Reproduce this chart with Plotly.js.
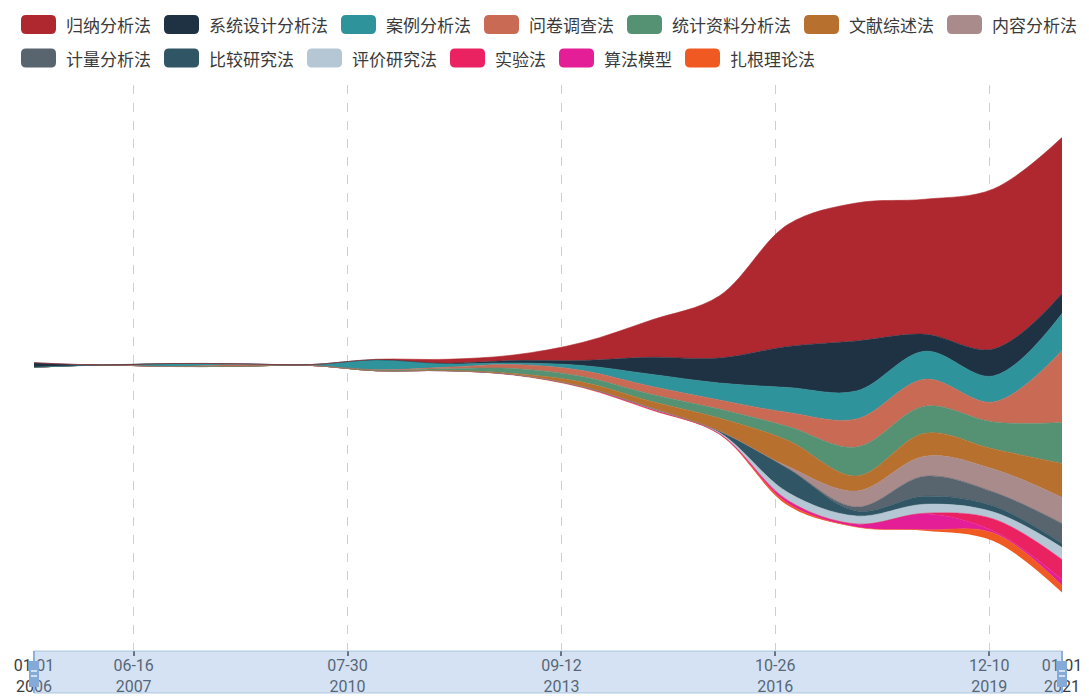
<!DOCTYPE html>
<html>
<head>
<meta charset="utf-8">
<script src="https://cdn.plot.ly/plotly-3.0.1.min.js"></script>
<style>
  html, body { margin: 0; padding: 0; background: #ffffff; }
  #chart { width: 1089px; height: 697px; }
</style>
</head>
<body>
<div id="chart"></div>
<script>
// ---------- data ----------
const years = ['2006','2007','2008','2009','2010','2011','2012','2013','2014','2015','2016','2017','2018','2019','2020','2021'];

const seriesNames = ['归纳分析法','系统设计分析法','案例分析法','问卷调查法','统计资料分析法','文献综述法','内容分析法',
                     '计量分析法','比较研究法','评价研究法','实验法','算法模型','扎根理论法'];
const seriesColors = ['#b0282f','#1f3244','#2e939b','#c96a55','#559274','#b8702f','#a88b8a',
                      '#58646e','#305565','#b5c7d4','#ea2262','#e41e96','#f05a22'];

const guina      = [0,   0, 0,   0,   0,   0.5, 4,   5.5, 18,  37,  62,  122, 138, 135, 160, 156];
const xitong     = [4.5, 0, 0,   0,   0,   0,   0.5, 2.5, 5,   17,  25,  41,  50,  17,  27,  20];
const anli       = [0,   0, 3,   1,   0.5, 10,  3.5, 1.5, 5,   12,  17,  25,  28,  28,  26,  37];
const wenjuan    = [0,   0, 0,   1.5, 0,   0.5, 1.5, 4,   6,   8,   9,   14,  28,  27,  20,  72];
const tongji     = [0,   0, 0,   0,   0,   0.5, 1.5, 5,   5.5, 7,   9,   14,  29,  27,  27,  41];
const wenxian    = [0,   0, 0,   0,   0,   0,   0.3, 1,   4.5, 6.5, 13,  26,  15,  23,  20,  34];
const neirong    = [0,   0, 0,   0,   0,   0,   0,   0,   0,   0,   0,   2,   16,  20,  23,  26];
const jiliang    = [0,   0, 0,   0,   0,   0,   0,   0,   0,   0,   0,   0,   4,   20,  14,  20];
const bijiao     = [0,   0, 0,   0,   0,   0,   0,   0,   0,   0.5, 1.5, 24,  5,   8,   6,   4];
const pingjia    = [0,   0, 0,   0,   0,   0,   0,   0,   0,   0.5, 1,   8,   8,   9,   7,   12];
const shiyan     = [0,   0, 0,   0,   0,   0,   0,   0,   0,   0,   0,   0,   0,   0.5, 12,  20];
const suanfa     = [0,   0, 0,   0,   0,   0,   0,   0.5, 1,   1,   0.5, 3,   3,   16,  2,   6];
const zhagen     = [0,   0, 0,   0,   0,   0,   0,   0,   0,   0,   0,   2,   0,   1,   8,   7];

const seriesValues = [guina, xitong, anli, wenjuan, tongji, wenxian, neirong, jiliang, bijiao, pingjia, shiyan, suanfa, zhagen];

const tickDates = ['2006-01-01','2007-06-16','2010-07-30','2013-09-12','2016-10-26','2019-12-10','2021-01-01'];
const tickLabels = ['01-01<br>2006','06-16<br>2007','07-30<br>2010','09-12<br>2013','10-26<br>2016','12-10<br>2019','01-01<br>2021'];

// ---------- layout geometry ----------
const W = 1089, H = 697;
const M = {l: 34, r: 27, t: 85, b: 47};
const PW = W - M.l - M.r, PH = H - M.t - M.b;
const px2x = px => (px - M.l) / PW;
const px2y = py => (H - M.b - py) / PH;

// ---------- theme river stacking (centered baseline) ----------
const dates = years.map(y => y + '-01-01');
const totals = dates.map((_, t) => seriesValues.reduce((s, arr) => s + arr[t], 0));
const base = totals.map(s => -s / 2);

const traces = [];
traces.push({
  x: dates, y: base.slice(), type: 'scatter', mode: 'lines',
  line: {width: 0, shape: 'spline', smoothing: 1},
  hoverinfo: 'skip', showlegend: false
});
const cum = base.slice();
for (let i = seriesValues.length - 1; i >= 0; i--) {
  const vals = seriesValues[i];
  for (let t = 0; t < dates.length; t++) cum[t] += vals[t];
  traces.push({
    x: dates, y: cum.slice(), type: 'scatter', mode: 'lines',
    name: seriesNames[i],
    line: {width: 0.6, color: seriesColors[i], shape: 'spline', smoothing: 1},
    fill: 'tonexty', fillcolor: seriesColors[i],
    hoverinfo: 'x+name', showlegend: false
  });
}

// ---------- custom legend (rounded swatches + text) ----------
const shapes = [];
const annotations = [];
const rows = [[0,1,2,3,4,5,6],[7,8,9,10,11,12]];
const rowCenters = [24.5, 58];
const swW = 35, swH = 19, swR = 5, charW = 17;
rows.forEach((row, r) => {
  let x0 = 21;
  const cy = rowCenters[r];
  row.forEach(idx => {
    const x1 = x0 + swW, yTop = cy - swH / 2, yBot = cy + swH / 2;
    const X = v => px2x(v), Y = v => px2y(v);
    const path = `M${X(x0 + swR)},${Y(yTop)} L${X(x1 - swR)},${Y(yTop)} Q${X(x1)},${Y(yTop)} ${X(x1)},${Y(yTop + swR)} ` +
                 `L${X(x1)},${Y(yBot - swR)} Q${X(x1)},${Y(yBot)} ${X(x1 - swR)},${Y(yBot)} ` +
                 `L${X(x0 + swR)},${Y(yBot)} Q${X(x0)},${Y(yBot)} ${X(x0)},${Y(yBot - swR)} ` +
                 `L${X(x0)},${Y(yTop + swR)} Q${X(x0)},${Y(yTop)} ${X(x0 + swR)},${Y(yTop)} Z`;
    shapes.push({type: 'path', xref: 'paper', yref: 'paper', path: path,
                 fillcolor: seriesColors[idx], line: {width: 0}, layer: 'above'});
    annotations.push({xref: 'paper', yref: 'paper', x: px2x(x1 + 8), y: px2y(cy),
                      xanchor: 'left', yanchor: 'middle', showarrow: false,
                      text: seriesNames[idx],
                      font: {family: 'Noto Sans CJK SC, sans-serif', size: 17, color: '#3a3a3a'}});
    x0 = x1 + 8 + charW * seriesNames[idx].length + 15;
  });
});

// ---------- dataZoom-like slider band ----------
const bandTop = 651, bandBot = 693;
shapes.push({type: 'rect', xref: 'paper', yref: 'paper', x0: 0, x1: 1,
             y0: px2y(bandBot), y1: px2y(bandTop),
             fillcolor: 'rgba(135,175,223,0.36)', line: {width: 1, color: 'rgba(150,180,215,0.7)'}, layer: 'above'});
[0, 1].forEach(edge => {
  const ex = M.l + edge * PW;
  shapes.push({type: 'line', xref: 'paper', yref: 'paper', x0: edge, x1: edge,
               y0: px2y(bandBot), y1: px2y(bandTop), line: {width: 2, color: '#8eb0da'}, layer: 'above'});
  shapes.push({type: 'rect', xref: 'paper', yref: 'paper', x0: px2x(ex - 5), x1: px2x(ex + 5),
               y0: px2y(687), y1: px2y(661), fillcolor: '#86aad8', line: {width: 0}, layer: 'above'});
  [671, 676].forEach(ly => {
    shapes.push({type: 'line', xref: 'paper', yref: 'paper', x0: px2x(ex - 3), x1: px2x(ex + 3),
                 y0: px2y(ly), y1: px2y(ly), line: {width: 1.5, color: '#e8f0fa'}, layer: 'above'});
  });
});

const layout = {
  width: W, height: H,
  margin: M,
  paper_bgcolor: '#ffffff', plot_bgcolor: '#ffffff',
  showlegend: false,
  xaxis: {
    type: 'date',
    range: [dates[0], dates[dates.length - 1]],
    tickmode: 'array', tickvals: tickDates, ticktext: tickLabels,
    showgrid: true, gridcolor: '#cfcfcf', griddash: 'dash', gridwidth: 1,
    showline: false, zeroline: false,
    ticks: 'outside', ticklen: 5, tickcolor: '#555', tickwidth: 1.5,
    ticklabelstandoff: -4,
    tickfont: {family: 'Roboto, sans-serif', size: 16, color: '#3c3c3c'},
    fixedrange: true
  },
  yaxis: {
    visible: false, range: [-(H - M.b - 365), 365 - M.t], fixedrange: true,
    showgrid: false, zeroline: false
  },
  shapes: shapes,
  annotations: annotations
};

Plotly.newPlot('chart', traces, layout, {displayModeBar: false, responsive: false});
</script>
</body>
</html>
